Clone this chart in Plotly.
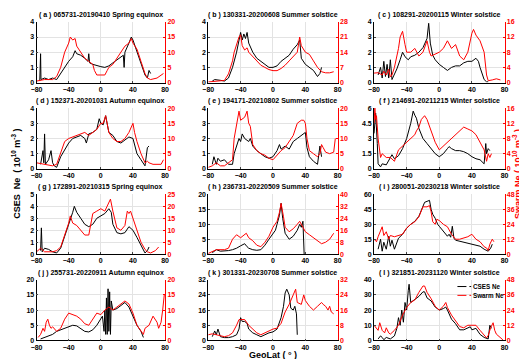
import plotly.graph_objects as go

FONT = "Liberation Sans, Arial, sans-serif"
RED = "#ff0000"

titles = [
    "( a ) 065731-20190410 Spring equinox",
    "( b ) 130331-20200608 Summer solstice",
    "( c ) 108291-20200115 Winter solstice",
    "( d ) 152371-20201031 Autumn equinox",
    "( e ) 194171-20210802 Summer solstice",
    "( f ) 214691-20211215 Winter solstice",
    "( g ) 172891-20210315 Spring equinox",
    "( h ) 236731-20220509 Summer solstice",
    "( i ) 280051-20230218 Winter solstice",
    "( j ) 255731-20220911 Autumn equinox",
    "( k ) 301331-20230708 Summer solstice",
    "( l ) 321851-20231120 Winter solstice",
]

# left (CSES) axis ranges/ticks, right (Swarm) axis ranges/ticks
left_max = [4, 4, 4, 4, 4, 6, 5, 20, 60, 20, 32, 40]
left_step = [1, 1, 1, 1, 1, 1.5, 1, 5, 15, 5, 8, 10]
right_max = [20, 28, 16, 20, 20, 16, 25, 40, 48, 20, 32, 48]
right_step = [5, 7, 4, 5, 5, 4, 5, 8, 12, 5, 8, 12]
lat_ticks = [-80, -40, 0, 40, 80]
legend_names = ["CSES Ne", "Swarm Ne"]

a_cses = [(-76,0.1),(-75,1.9),(-74.5,0.2),(-70,0.3),(-65,0.2),(-60,0.3),(-55,0.2),(-50,0.6),(-45,1.0),(-40,1.4),(-35,1.7),(-32,2.1),(-30,1.9),(-25,1.8),(-20,1.6),(-16,1.4),(-15,1.9),(-14,1.3),(-10,1.2),(-5,1.1),(0,1.05),(5,1.0),(10,1.1),(15,1.3),(20,1.5),(25,1.7),(28,1.8),(29,1.0),(30,2.0),(35,2.6),(38,3.0),(40,2.8),(45,2.0),(50,1.2),(55,0.5),(58,0.3),(60,0.8),(62,0.6)]
a_swarm = [(-80,0.5),(-70,1.0),(-60,1.0),(-55,2.0),(-50,5.0),(-45,10),(-40,13),(-38,15),(-35,14),(-32,14.5),(-30,12),(-25,10),(-20,8),(-15,7),(-10,6),(-8,4),(-5,2.5),(0,2.5),(5,2.5),(8,4),(10,5),(15,6),(20,8),(25,10),(30,12),(35,13),(38,14.5),(40,13),(45,11),(50,7),(55,3),(58,1.5),(62,1.0),(70,1.5),(75,2.5),(78,3.0)]

b_cses = [(-75,0.1),(-72,0.2),(-65,0.15),(-60,0.1),(-55,0.3),(-50,1.0),(-45,2.0),(-42,2.8),(-40,3.3),(-38,2.8),(-36,3.2),(-34,2.9),(-32,3.3),(-30,2.6),(-25,2.0),(-20,1.6),(-15,1.4),(-10,1.2),(-5,1.0),(0,1.0),(5,1.1),(10,1.4),(15,1.6),(20,1.8),(25,2.2),(30,2.5),(33,2.8),(35,1.6),(40,1.2),(45,1.0),(50,0.8),(55,0.4),(58,0.6),(60,1.0)]
b_swarm = [(-80,0.3),(-70,0.5),(-60,1.0),(-55,4),(-50,10),(-48,14),(-45,18),(-42,21),(-40,22),(-38,17),(-35,15),(-32,16),(-30,14),(-25,12),(-20,10),(-15,8),(-10,7),(-5,6),(0,5.5),(5,5.5),(10,6.5),(15,8),(20,10),(25,12),(30,14),(33,21),(35,17),(40,14),(45,13),(50,10),(55,7),(60,5),(65,4.5),(70,4.5),(75,5)]

c_cses = [(-75,0.5),(-72,1.0),(-70,0.3),(-68,1.4),(-66,0.4),(-64,1.2),(-62,0.3),(-60,1.5),(-58,0.2),(-55,0.5),(-52,0.9),(-48,1.5),(-45,2.0),(-42,1.7),(-38,1.5),(-35,1.7),(-30,1.8),(-25,2.0),(-20,2.3),(-15,2.9),(-13,3.9),(-11,2.6),(-8,1.8),(-5,1.5),(0,1.2),(5,1.0),(10,0.8),(15,1.0),(20,1.1),(25,1.1),(30,1.3),(35,1.4),(40,1.4),(45,1.6),(48,1.4),(50,1.0),(55,0.2),(58,0.05),(60,0.05)]
c_swarm = [(-80,2.5),(-75,2.6),(-70,2.0),(-68,3),(-65,2),(-62,3.5),(-60,1.5),(-58,2),(-55,4),(-50,9),(-48,12),(-45,13.5),(-42,10),(-40,8),(-35,8),(-30,9),(-25,7),(-20,8),(-15,11),(-12,8),(-10,7),(-5,7.5),(0,8),(5,9),(10,11),(15,9),(20,10),(25,7),(30,6),(35,8),(40,13),(42,14),(45,12.5),(50,11),(55,8),(58,2),(60,0.5),(65,0.7),(70,1.0),(75,0.7)]

d_cses = [(-75,0.3),(-72,1.2),(-71,0.4),(-70,2.3),(-69,0.3),(-65,0.6),(-62,1.2),(-60,0.4),(-58,0.2),(-55,0.1),(-50,0.8),(-45,1.3),(-40,1.7),(-35,2.0),(-30,2.1),(-25,2.2),(-20,2.0),(-18,1.7),(-15,2.3),(-10,2.4),(-5,2.6),(-2,3.3),(0,3.0),(3,2.9),(6,3.5),(8,3.0),(10,2.4),(15,2.2),(20,1.8),(25,1.7),(30,1.9),(35,2.1),(40,2.0),(45,1.0),(50,0.6),(55,0.2),(58,1.4),(60,1.5)]
d_swarm = [(-80,2),(-70,1.5),(-65,1),(-60,1),(-55,1.5),(-50,5),(-45,9),(-40,10),(-35,10.5),(-30,11),(-25,11.5),(-20,12),(-15,11),(-10,12),(-5,13),(0,15),(3,15),(6,17.5),(8,15),(10,12),(15,10),(20,9),(25,9),(30,10),(35,12),(38,13.5),(40,15),(42,12),(45,9),(50,5),(55,2),(58,2.5),(60,2),(65,1.5),(70,1.5),(75,1.5),(78,3)]

e_cses = [(-75,0.3),(-73,0.8),(-70,0.3),(-68,0.7),(-65,0.5),(-60,0.6),(-55,0.3),(-50,0.3),(-48,1.0),(-45,1.5),(-42,2.0),(-40,1.8),(-38,2.3),(-35,2.0),(-30,1.8),(-28,2.0),(-25,1.5),(-20,1.2),(-15,1.0),(-10,0.8),(-5,0.7),(0,0.8),(5,1.2),(8,1.6),(10,1.3),(15,1.5),(20,1.3),(25,1.8),(30,2.0),(35,2.2),(40,2.4),(42,1.4),(45,0.8),(50,0.5),(55,0.3),(58,1.5),(60,0.8)]
e_swarm = [(-80,0.5),(-75,1),(-70,2),(-65,1),(-60,1),(-55,2),(-50,3),(-48,10),(-45,15),(-42,19),(-40,16),(-35,17),(-32,19),(-30,15),(-28,14),(-25,8),(-20,6),(-15,5),(-10,4.5),(-5,3.5),(0,3.0),(5,4.5),(10,6),(15,7),(20,9),(25,11),(30,15),(35,16),(38,16),(40,15),(42,10),(45,6),(50,5),(55,4),(58,5),(60,8),(62,7),(65,5.5),(70,5),(75,5.5),(77,10)]

f_cses = [(-80,3.5),(-78,5.5),(-76,2.5),(-75,0.5),(-72,0.2),(-70,0.5),(-65,0.4),(-62,0.8),(-58,1.4),(-55,1.0),(-50,1.3),(-45,2.0),(-40,3.0),(-35,4.5),(-32,5.7),(-30,5.3),(-28,5.0),(-25,4.0),(-20,3.0),(-15,2.5),(-10,2.0),(-5,1.5),(0,1.2),(5,1.5),(10,2.0),(12,2.2),(15,2.0),(20,1.8),(25,1.8),(30,1.7),(35,1.5),(40,1.2),(45,1.0),(50,0.9),(55,0.5),(57,2.5),(58,1.5),(60,2.0),(62,1.8)]
f_swarm = [(-80,12),(-79,16),(-78,13),(-77,14),(-75,8),(-72,3),(-70,4),(-65,3),(-60,3),(-55,2),(-50,5),(-45,6),(-40,7),(-35,8),(-30,9),(-28,10),(-25,11),(-22,13),(-18,14),(-15,13),(-10,10),(-5,7),(0,5),(5,6),(10,7),(15,8),(20,9),(25,10),(30,11),(35,10.5),(40,10),(45,9),(50,7),(55,5),(58,2),(60,4),(62,3),(64,4)]

g_cses = [(-75,0.3),(-74,2.2),(-73,0.2),(-70,0.5),(-65,0.4),(-60,0.2),(-55,0.1),(-50,0.5),(-45,1.5),(-40,2.5),(-37,3.0),(-35,3.5),(-33,4.0),(-30,3.5),(-25,3.0),(-20,2.5),(-15,2.3),(-10,2.5),(-5,3.0),(0,3.2),(5,3.4),(10,3.8),(13,3.5),(15,2.5),(20,1.8),(25,1.7),(30,1.8),(35,2.3),(40,2.0),(45,1.4),(50,0.8),(55,0.1),(58,0.3),(60,0.6)]
g_swarm = [(-80,1),(-75,2.5),(-70,1),(-65,1),(-60,1),(-55,1.5),(-50,3),(-45,8),(-40,13),(-38,16),(-35,13),(-30,12),(-25,10),(-20,8),(-15,8),(-12,13),(-10,17),(-5,18),(0,19),(5,18),(8,20),(10,22),(12,23),(15,18),(20,11),(25,10),(30,12),(33,18),(35,17),(37,18),(40,15),(45,10),(50,5),(55,2),(58,1),(62,0.5),(68,1.5),(72,3)]

h_cses = [(-75,0.5),(-70,1.5),(-65,1.0),(-60,1.0),(-55,1.2),(-50,1.5),(-45,2.0),(-40,2.8),(-35,3.5),(-32,2.5),(-30,2.0),(-25,1.5),(-20,1.3),(-15,1.5),(-10,3.0),(-5,5.0),(0,7.0),(3,8),(5,10),(8,13),(10,17),(12,12),(15,7),(20,5),(25,6),(30,8),(33,10),(35,9),(37,11),(38,2),(38.5,0)]
h_swarm = [(-80,0.5),(-75,2),(-70,3),(-60,3),(-55,4),(-50,10),(-45,13),(-40,11),(-35,13),(-33,14),(-30,11),(-25,9),(-20,6),(-15,5),(-10,8),(-5,12),(0,18),(3,21),(5,22),(8,28),(10,34),(13,25),(15,18),(20,15),(25,17),(30,20),(33,22),(37,18),(40,15),(45,13),(50,11),(55,9),(60,7),(65,8),(70,10),(75,14)]

i_cses = [(-75,5),(-72,15),(-70,3),(-68,12),(-65,5),(-62,18),(-60,8),(-58,14),(-55,5),(-52,12),(-50,16),(-45,20),(-40,26),(-35,30),(-30,33),(-25,38),(-20,48),(-18,52),(-15,53),(-12,54),(-10,45),(-8,40),(-5,36),(-2,30),(0,28),(5,23),(10,18),(12,20),(14,17),(16,28),(18,16),(20,14),(30,12),(40,10),(50,8),(55,5),(60,3),(63,6),(65,10)]
i_swarm = [(-80,12),(-77,10),(-75,14),(-72,18),(-70,22),(-68,15),(-65,18),(-62,12),(-60,15),(-55,14),(-50,15),(-45,16),(-40,21),(-35,24),(-30,26),(-25,30),(-20,38),(-15,38),(-12,39),(-10,34),(-8,26),(-5,24),(-3,28),(0,27),(5,24),(10,22),(15,16),(20,12),(25,12),(30,13),(35,14),(40,16),(45,12),(50,10),(55,6),(58,5),(60,3),(62,8),(65,12),(67,10)]

j_cses = [(-75,0.5),(-70,1.0),(-65,1.5),(-60,2.0),(-55,3.0),(-50,3.5),(-45,4.0),(-40,4.5),(-35,5.0),(-30,4.8),(-25,4.0),(-20,3.0),(-15,2.8),(-10,3.5),(-5,5),(0,7),(2,8),(4,3),(5,10),(6,2),(7,14),(8,2),(9,17),(10,3),(11,16),(12,2),(13,13),(15,10),(20,10.5),(25,11.5),(30,12.5),(35,11),(40,8),(45,5),(50,3),(53,1)]
j_swarm = [(-78,1),(-75,2),(-72,4),(-70,3),(-68,6),(-66,7),(-64,5),(-62,4),(-60,4.5),(-55,3),(-50,4),(-45,7),(-40,9),(-35,8.5),(-30,8),(-25,7),(-20,5.5),(-15,5),(-10,7),(-5,9),(0,8.5),(5,10),(10,11),(15,10),(20,11),(25,12),(30,13),(35,12),(40,9),(45,5),(50,3),(53,2),(55,4),(60,5),(65,8),(68,7),(70,6),(72,4),(75,6),(77,10),(79,15)]

k_cses = [(-75,2),(-72,5),(-70,3),(-68,6),(-65,2),(-60,1.5),(-55,1.5),(-50,2),(-45,3),(-42,6),(-40,12),(-38,10),(-35,10),(-32,9),(-30,6),(-25,4),(-20,3),(-15,2),(-10,3),(-5,4),(0,4.5),(5,6),(10,12),(13,18),(15,25),(17,27),(20,24),(22,17),(25,16),(27,18),(29,14),(30,3)]
k_swarm = [(-80,3),(-75,3.5),(-70,3),(-65,2.5),(-60,2),(-55,2.5),(-50,4),(-45,8),(-42,11),(-40,11),(-35,11),(-30,8),(-25,6),(-20,4),(-15,3),(-10,4),(-5,5),(0,6),(5,6.5),(10,9),(15,15),(20,19),(25,24),(28,27),(30,20),(35,19),(38,24),(40,21),(45,18),(50,16),(55,18),(60,20),(62,19),(65,18),(68,16),(70,18),(72,15),(75,14)]

l_cses = [(-75,1),(-72,3),(-70,2),(-68,0.5),(-65,2),(-60,1),(-55,3),(-52,8),(-50,15),(-48,10),(-46,20),(-44,12),(-42,25),(-40,20),(-38,33),(-37,37),(-35,25),(-30,27),(-25,29),(-20,32),(-18,32),(-15,28),(-10,26),(-5,22),(0,20),(5,21),(8,22),(10,20),(15,14),(20,11),(25,7),(30,7),(35,8),(38,9),(40,7),(45,8),(50,4),(55,2),(60,1),(62,10),(64,8)]
l_swarm = [(-80,12),(-77,10),(-75,8),(-73,14),(-70,8),(-67,6),(-65,10),(-62,6),(-60,5),(-55,8),(-50,12),(-45,20),(-40,26),(-35,30),(-30,32),(-25,38),(-20,43),(-18,43),(-15,38),(-10,33),(-5,27),(0,24),(5,27),(8,30),(10,26),(15,20),(20,15),(25,11),(30,10),(35,12),(40,12),(45,12),(50,8),(55,4),(58,2),(60,4),(63,10),(66,14),(68,8),(70,5),(73,3),(75,2),(78,0.5)]

cses_series = [a_cses, b_cses, c_cses, d_cses, e_cses, f_cses, g_cses, h_cses, i_cses, j_cses, k_cses, l_cses]
swarm_series = [a_swarm, b_swarm, c_swarm, d_swarm, e_swarm, f_swarm, g_swarm, h_swarm, i_swarm, j_swarm, k_swarm, l_swarm]

W, H = 527, 359
col_px = [(23, 154), (198, 330), (367, 500)]
row_px = [(10, 72), (98, 160), (186, 247), (273, 335)]

fig = go.Figure()
tickfont = dict(family=FONT, size=7, color="black", weight="bold")


def nm(n):
    return "" if n == 1 else str(n)


for i in range(12):
    r, c = divmod(i, 3)
    xn = i + 1
    yl = 2 * i + 1
    yr = 2 * i + 2
    xs, ys = zip(*cses_series[i])
    fig.add_trace(go.Scatter(x=xs, y=ys, mode="lines", line=dict(color="black", width=1),
                             xaxis="x" + nm(xn), yaxis="y" + nm(yl), showlegend=False))
    xs, ys = zip(*swarm_series[i])
    fig.add_trace(go.Scatter(x=xs, y=ys, mode="lines", line=dict(color=RED, width=1),
                             xaxis="x" + nm(xn), yaxis="y" + nm(yr), showlegend=False))
    x0, x1 = col_px[c]
    t0, t1 = row_px[r]
    xd = [x0 / W, x1 / W]
    yd = [1 - t1 / H, 1 - t0 / H]
    fig.layout["xaxis" + nm(xn)] = dict(
        domain=xd, anchor="y" + nm(yl), range=[-80, 80], tickvals=lat_ticks,
        showgrid=True, gridcolor="#e3e3e3", gridwidth=0.6, zeroline=False,
        showline=True, linecolor="black", linewidth=0.8, ticks="inside", ticklen=2,
        tickfont=tickfont)
    lt = [k * left_step[i] for k in range(int(round(left_max[i] / left_step[i])) + 1)]
    ltxt = [("%g" % v) for v in lt]
    fig.layout["yaxis" + nm(yl)] = dict(
        domain=yd, anchor="x" + nm(xn), range=[0, left_max[i]], tickvals=lt, ticktext=ltxt,
        showgrid=True, gridcolor="#e3e3e3", gridwidth=0.6, zeroline=False,
        showline=True, linecolor="black", linewidth=0.8, ticks="inside", ticklen=2,
        tickfont=tickfont)
    rt = [k * right_step[i] for k in range(int(round(right_max[i] / right_step[i])) + 1)]
    fig.layout["yaxis" + nm(yr)] = dict(
        overlaying="y" + nm(yl), side="right", anchor="x" + nm(xn), range=[0, right_max[i]],
        tickvals=rt, showgrid=False, zeroline=False, showline=True, linecolor=RED,
        linewidth=0.8, ticks="inside", ticklen=2, tickcolor=RED,
        tickfont=dict(family=FONT, size=7, color=RED, weight="bold"))
    fig.add_annotation(x=(x0 + x1) / 2 / W, y=1 - (t0 - 2) / H, xref="paper", yref="paper",
                       text=titles[i], showarrow=False, xanchor="center", yanchor="bottom",
                       borderpad=0,
                       font=dict(family=FONT, size=7, color="black", weight="bold"))

# legend (panel l), drawn manually
leg_rows = [(280, "black"), (289, RED)]
for (yy, col), name in zip(leg_rows, legend_names):
    fig.add_shape(type="line", xref="paper", yref="paper",
                  x0=452 / W, x1=466 / W, y0=1 - yy / H, y1=1 - yy / H,
                  line=dict(color=col, width=1, dash="dashdot"))
    fig.add_annotation(x=467 / W, y=1 - yy / H, xref="paper", yref="paper",
                       text=name, showarrow=False, xanchor="left", yanchor="middle",
                       borderpad=0,
                       font=dict(family=FONT, size=6.3, color="black", weight="bold"))

fig.add_annotation(x=2 / W, y=1 - 165 / H, xref="paper", yref="paper", textangle=-90,
                   xanchor="center", yanchor="middle", borderpad=0,
                   text="CSES  Ne  ( 10<sup>10</sup> m<sup>-3</sup> )", showarrow=False,
                   font=dict(family=FONT, size=9, color="black", weight="bold"))
fig.add_annotation(x=513 / W, y=1 - 165 / H, xref="paper", yref="paper", textangle=-90,
                   xanchor="center", yanchor="middle", borderpad=0,
                   text="Swarm Ne ( 10<sup>10</sup> m<sup>-3</sup> )", showarrow=False,
                   font=dict(family=FONT, size=9, color=RED, weight="bold"))
fig.add_annotation(x=264 / W, y=1 - 350 / H, xref="paper", yref="paper",
                   xanchor="center", yanchor="middle", borderpad=0,
                   text="GeoLat ( ° )", showarrow=False,
                   font=dict(family=FONT, size=9, color="black", weight="bold"))

fig.update_layout(
    width=W, height=H, margin=dict(l=0, r=0, t=0, b=0),
    plot_bgcolor="white", paper_bgcolor="white",
    showlegend=False,
)

fig.write_html("out.html")
